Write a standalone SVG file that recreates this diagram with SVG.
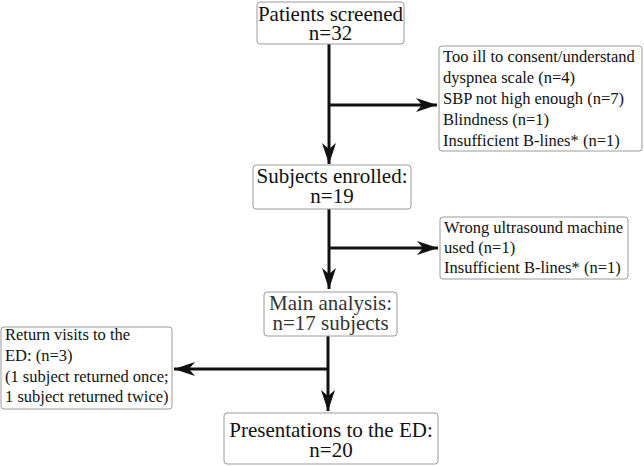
<svg xmlns="http://www.w3.org/2000/svg" width="644" height="466" viewBox="0 0 644 466">
<style>
.box{fill:#fff;stroke:#9a9a9a;stroke-width:1}
.big{font-family:"Liberation Serif","Times New Roman",serif;font-size:21px;fill:#111;text-anchor:middle}
.small{font-family:"Liberation Serif","Times New Roman",serif;font-size:16.5px;fill:#111}
.conn{stroke:#111;stroke-width:3;fill:none}
</style>
<defs>
<marker id="arr" viewBox="-22 -8 23 16" refX="0" refY="0" markerWidth="23" markerHeight="16" markerUnits="userSpaceOnUse" orient="auto">
<path d="M0,0 L-21,-7 L-15,0 L-21,7 Z" fill="#111"/>
</marker>
</defs>
<rect width="644" height="466" fill="#fff"/>
<g id="connectors">
<path class="conn" d="M329,44 V164" marker-end="url(#arr)"/>
<path class="conn" d="M329,105 H437" marker-end="url(#arr)"/>
<path class="conn" d="M329,209 V289" marker-end="url(#arr)"/>
<path class="conn" d="M329,248 H438" marker-end="url(#arr)"/>
<path class="conn" d="M328,336 V411" marker-end="url(#arr)"/>
<path class="conn" d="M328,369 H174" marker-end="url(#arr)"/>
</g>
<g id="screened">
<rect class="box" x="257" y="2" width="147" height="42" rx="3"/>
<text class="big" x="330.5" y="21">Patients screened</text>
<text class="big" x="330.5" y="40">n=32</text>
</g>
<g id="excluded1">
<rect class="box" x="439" y="46" width="203" height="105" rx="3"/>
<text class="small" x="443" y="61.5">Too ill to consent/understand</text>
<text class="small" x="443" y="82.5">dyspnea scale (n=4)</text>
<text class="small" x="443" y="103.5">SBP not high enough (n=7)</text>
<text class="small" x="443" y="124.5">Blindness (n=1)</text>
<text class="small" x="443" y="145.5">Insufficient B-lines* (n=1)</text>
</g>
<g id="enrolled">
<rect class="box" x="253" y="165" width="158" height="44" rx="3"/>
<text class="big" x="332" y="183">Subjects enrolled:</text>
<text class="big" x="332" y="203">n=19</text>
</g>
<g id="excluded2">
<rect class="box" x="440" y="217" width="188" height="62" rx="3"/>
<text class="small" x="444" y="233">Wrong ultrasound machine</text>
<text class="small" x="444" y="253">used (n=1)</text>
<text class="small" x="444" y="273">Insufficient B-lines* (n=1)</text>
</g>
<g id="main">
<rect class="box" x="264" y="292" width="133" height="44" rx="3"/>
<text class="big" x="330.5" y="310" style="fill:#333">Main analysis:</text>
<text class="big" x="330.5" y="330" style="fill:#333">n=17 subjects</text>
</g>
<g id="returns">
<rect class="box" x="1" y="327" width="171" height="82" rx="3"/>
<text class="small" x="5" y="340">Return visits to the</text>
<text class="small" x="5" y="361">ED: (n=3)</text>
<text class="small" x="5" y="382">(1 subject returned once;</text>
<text class="small" x="5" y="402">1 subject returned twice)</text>
</g>
<g id="presentations">
<rect class="box" x="224" y="413" width="214" height="51" rx="3"/>
<text class="big" x="331" y="437">Presentations to the ED:</text>
<text class="big" x="331" y="457">n=20</text>
</g>
</svg>
